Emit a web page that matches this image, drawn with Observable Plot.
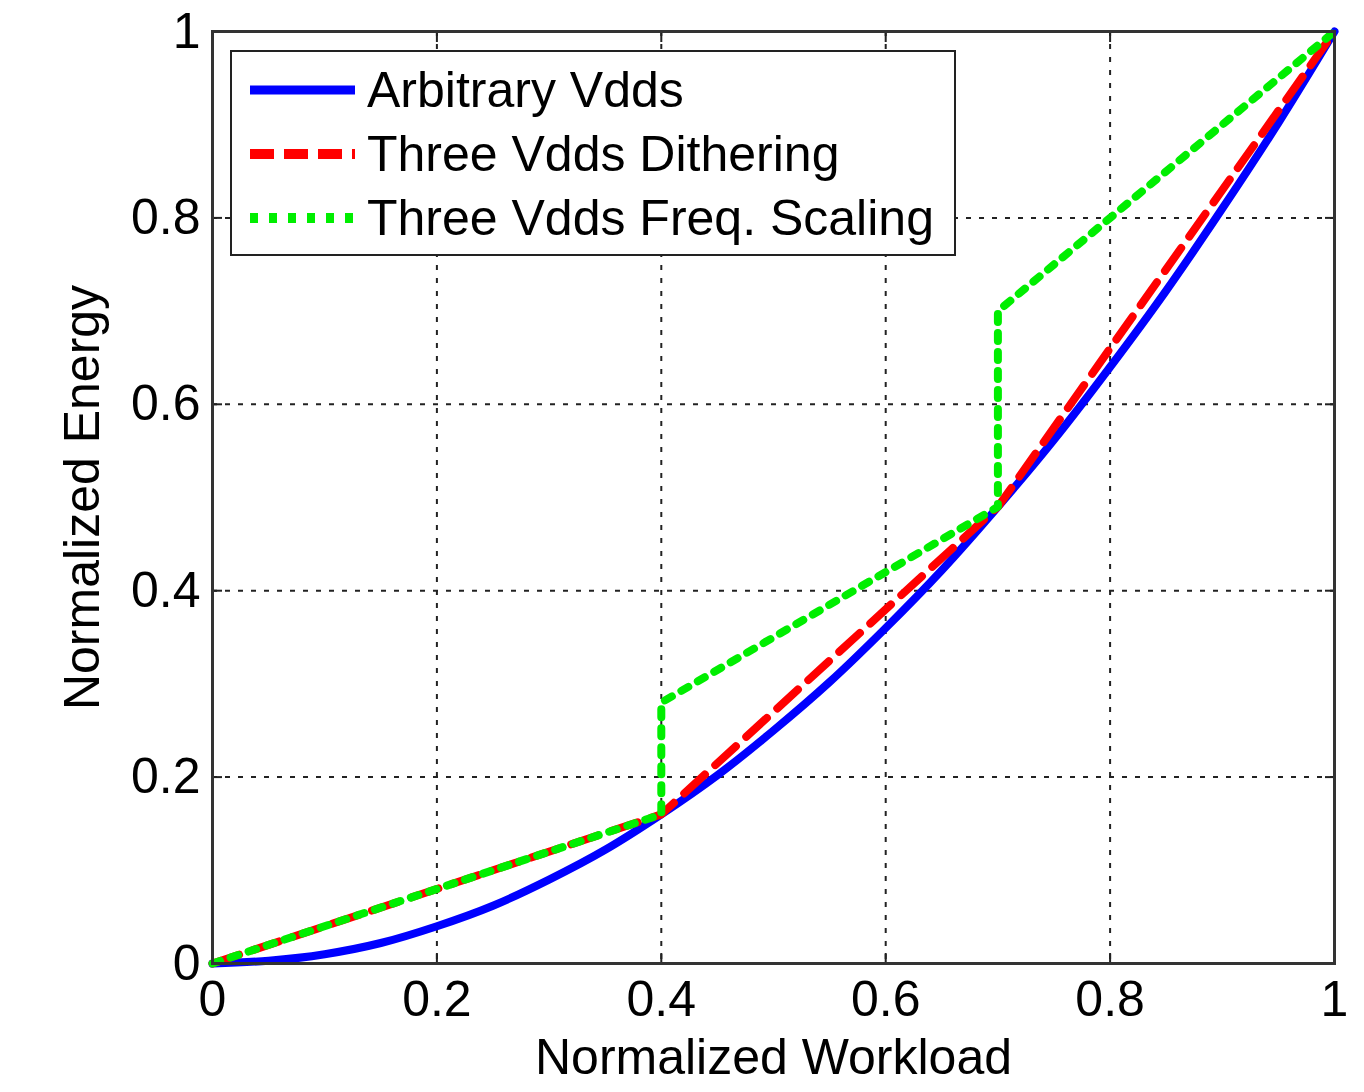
<!DOCTYPE html>
<html>
<head>
<meta charset="utf-8">
<script src="https://cdn.jsdelivr.net/npm/d3@7"></script>
<script src="https://cdn.jsdelivr.net/npm/@observablehq/plot@0.6"></script>
<style>
  html, body { margin: 0; padding: 0; background: #fff; }
  #wrap { position: relative; width: 1364px; height: 1092px; font-family: "Liberation Sans", Arial, sans-serif; }
  #legend { position: absolute; left: 230px; top: 50px; width: 726px; height: 206px; background: #fff; border: 2px solid #222; box-sizing: border-box; }
  .row { position: absolute; left: 0; height: 60px; display: flex; align-items: center; }
  .row svg { margin-left: 18px; margin-right: 12px; }
  .row span { font-size: 50px; color: #000; white-space: nowrap; }
</style>
</head>
<body>
<div id="wrap"></div>
<script>
// ---- data ----
const seriesNames = ["Arbitrary Vdds", "Three Vdds Dithering", "Three Vdds Freq. Scaling"];
const seriesColors = ["#0000ff", "#ff0000", "#00ee00"];

const arbitraryX = [0, 0.05, 0.1, 0.15, 0.2, 0.25, 0.3, 0.35, 0.4, 0.45, 0.5, 0.55, 0.6, 0.65, 0.7, 0.75, 0.8, 0.85, 0.9, 0.95, 1];
const arbitraryY = [0, 0.003, 0.01, 0.022, 0.04, 0.062, 0.09, 0.122, 0.16, 0.202, 0.25, 0.302, 0.36, 0.422, 0.49, 0.562, 0.64, 0.722, 0.81, 0.902, 1];

const ditherX = [0, 0.4, 0.7, 1];
const ditherY = [0, 0.16, 0.49, 1];

const freqX = [0, 0.4, 0.4, 0.7, 0.7, 1];
const freqY = [0, 0.16, 0.28, 0.49, 0.70, 1];

const tickValues = [0, 0.2, 0.4, 0.6, 0.8, 1];
const tickLabels = ["0", "0.2", "0.4", "0.6", "0.8", "1"];
const gridValues = [0.2, 0.4, 0.6, 0.8];
const xTitle = "Normalized Workload";
const yTitle = "Normalized Energy";

// ---- build tables ----
const arbitrary = arbitraryX.map((x, i) => ({x, y: arbitraryY[i]}));
const dither = ditherX.map((x, i) => ({x, y: ditherY[i]}));
const freq = freqX.map((x, i) => ({x, y: freqY[i]}));
const fmt = d => tickLabels[tickValues.indexOf(d)] ?? String(d);

const font = "Liberation Sans, Arial, sans-serif";

const chart = Plot.plot({
  width: 1364,
  height: 1092,
  marginLeft: 212,
  marginRight: 30,
  marginTop: 31,
  marginBottom: 129,
  style: {fontFamily: font, fontSize: "50px", color: "#000", background: "#fff", overflow: "visible"},
  x: {domain: [0, 1]},
  y: {domain: [0, 1]},
  marks: [
    Plot.gridX(gridValues, {stroke: "#222", strokeOpacity: 1, strokeWidth: 2, strokeDasharray: "5,8"}),
    Plot.gridY(gridValues, {stroke: "#222", strokeOpacity: 1, strokeWidth: 2, strokeDasharray: "5,8"}),
    Plot.axisX(tickValues, {anchor: "bottom", tickSize: -10, tickPadding: 27, tickFormat: fmt, label: null, fontSize: 50, stroke: "#222", strokeWidth: 2}),
    Plot.axisX(tickValues, {anchor: "top", tickSize: -10, tickFormat: () => "", label: null, stroke: "#222", strokeWidth: 2}),
    Plot.axisY(tickValues, {anchor: "left", tickSize: -10, tickPadding: 22, tickFormat: fmt, label: null, fontSize: 50, stroke: "#222", strokeWidth: 2}),
    Plot.axisY(tickValues, {anchor: "right", tickSize: -10, tickFormat: () => "", label: null, stroke: "#222", strokeWidth: 2}),
    Plot.line(arbitrary, {x: "x", y: "y", stroke: seriesColors[0], strokeWidth: 8, curve: "catmull-rom"}),
    Plot.line(dither, {x: "x", y: "y", stroke: seriesColors[1], strokeWidth: 8, strokeDasharray: "28,14"}),
    Plot.line(freq, {x: "x", y: "y", stroke: seriesColors[2], strokeWidth: 8, strokeDasharray: "8,11"}),
    Plot.frame({stroke: "#333", strokeWidth: 3}),
    Plot.text([xTitle], {frameAnchor: "bottom", dy: 110, textAnchor: "middle", text: d => d, fontSize: 50, fill: "#000"}),
    Plot.text([yTitle], {frameAnchor: "left", dx: -130, textAnchor: "middle", rotate: -90, text: d => d, fontSize: 50, fill: "#000"})
  ]
});

const wrap = document.getElementById("wrap");
wrap.appendChild(chart);

// ---- legend (inside the axes, as in the reference) ----
const legend = document.createElement("div");
legend.id = "legend";
const dashes = [null, "24,10", "8,11"];
seriesNames.forEach((name, i) => {
  const row = document.createElement("div");
  row.className = "row";
  row.style.top = (8 + i * 64) + "px";
  const sw = d3.create("svg").attr("width", 105).attr("height", 20);
  sw.append("line").attr("x1", 0).attr("x2", 105).attr("y1", 10).attr("y2", 10)
    .attr("stroke", seriesColors[i]).attr("stroke-width", i === 0 ? 9 : 10)
    .attr("stroke-dasharray", dashes[i]);
  row.appendChild(sw.node());
  const span = document.createElement("span");
  span.textContent = name;
  row.appendChild(span);
  legend.appendChild(row);
});
wrap.appendChild(legend);
</script>
</body>
</html>
